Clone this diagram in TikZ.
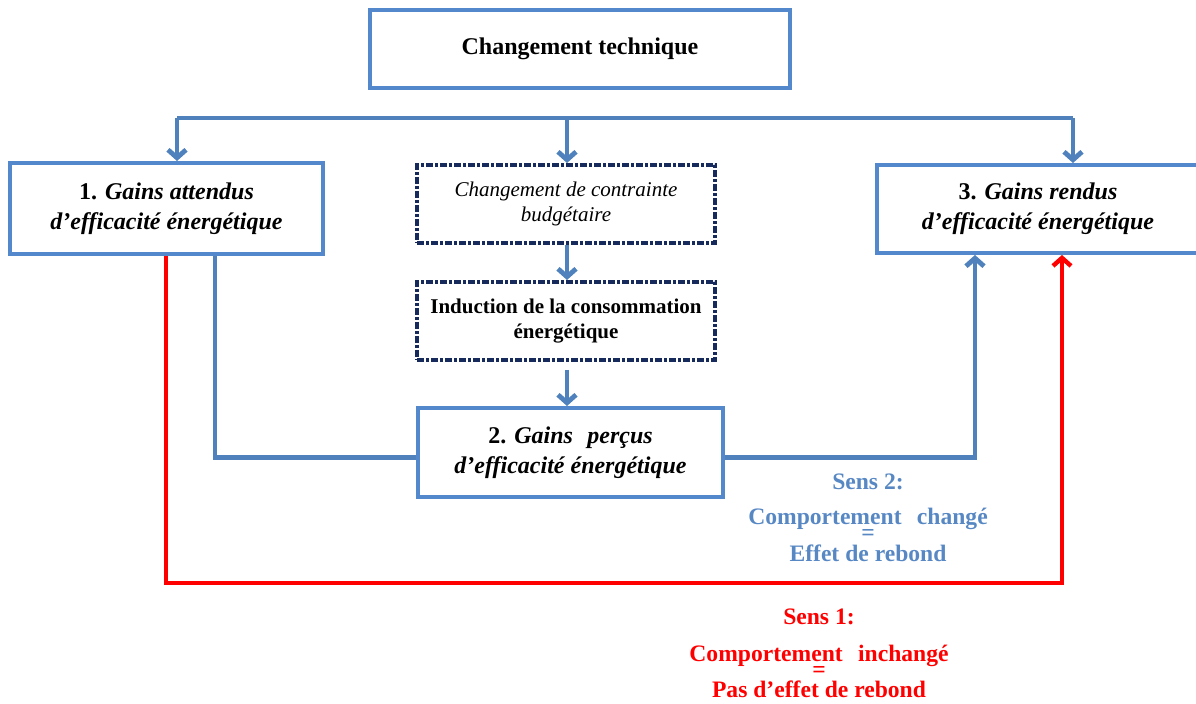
\documentclass[tikz,border=0pt]{standalone}
\usepackage{fontspec}
\setmainfont{Liberation Serif}
\usetikzlibrary{arrows.meta}
\definecolor{cblue}{RGB}{79,129,189}
\definecolor{cbox}{RGB}{84,136,204}
\definecolor{cnavy}{RGB}{22,42,92}
\definecolor{cred}{RGB}{255,0,0}
\definecolor{ctxtblue}{RGB}{88,136,196}
\begin{document}
\begin{tikzpicture}[x=0.5pt,y=-0.5pt,
  box/.style={draw=cbox, line width=2pt, fill=white, align=center, inner sep=0pt,
    font=\fontsize{12}{15}\selectfont\bfseries},
  dotbox/.style={draw=cnavy, line width=2pt, dash pattern=on 3.5pt off 1pt on 1.5pt off 1pt,
    fill=white, align=center, inner sep=0pt, font=\fontsize{10.5}{12.5}\selectfont},
  conn/.style={draw=cblue, line width=2.4pt},
  arr/.style={conn, -{Straight Barb[length=4pt,width=9pt]}},
  redarr/.style={draw=cred, line width=2.2pt, -{Straight Barb[length=4pt,width=9pt]}},
  sensfont/.style={font={\fontsize{11.8}{13}\selectfont\bfseries\lineskiplimit=-30pt\relax}, inner sep=0pt, align=center},
  sensb/.style={sensfont, text=ctxtblue},
  sensr/.style={sensfont, text=cred}]
\useasboundingbox (0,0) rectangle (1196,704);
\clip (0,0) rectangle (1196,704);

% boxes
\node[box, minimum width=210pt, minimum height=39pt] (top) at (580,49) {Changement technique};
\node[box, minimum width=156.5pt, minimum height=45.5pt] (b1) at (166.5,208.5)
  {1. \textit{Gains attendus}\\\textit{d’efficacité énergétique}};
\node[dotbox, minimum width=149pt, minimum height=39pt] (d1) at (566,204)
  {\itshape Changement de contrainte\\\itshape budgétaire};
\node[dotbox, minimum width=149pt, minimum height=39pt, font=\fontsize{10.5}{12.5}\selectfont\bfseries] (d2) at (566,321)
  {Induction de la consommation\\énergétique};
\node[box, minimum width=152.5pt, minimum height=44.5pt] (b2) at (570.5,452.5)
  {2. \textit{Gains\hspace{0.35em} perçus}\\\textit{d’efficacité énergétique}};
\node[box, minimum width=161pt, minimum height=44pt] (b3) at (1038,209)
  {3. \textit{Gains rendus}\\\textit{d’efficacité énergétique}};

% coordinates
\coordinate (hl) at (177,118);
\coordinate (hm) at (567,118);
\coordinate (hr) at (1073,118);
\coordinate (d2s) at (567,370);
\coordinate (bl) at (215,0);
\coordinate (br) at (975,0);
\coordinate (rl) at (166,583);
\coordinate (rr) at (1062,583);

% blue connectors
\draw[conn] (hl) -- (hr);
\draw[arr] (hl) -- (hl |- b1.north);
\draw[arr] (hm) -- (hm |- d1.north);
\draw[arr] (hr) -- (hr |- b3.north);
\draw[arr] (hm |- d1.south) -- (hm |- d2.north);
\draw[arr] (d2s) -- (d2s |- b2.north);
\draw[conn] (bl |- b1.south) |- ([yshift=-2.5pt]b2.west);
\draw[arr] ([yshift=-2.5pt]b2.east) -| (br |- b3.south);

% red connector
\draw[redarr] (rl |- b1.south) -- (rl) -- (rr) -- (rr |- b3.south);

% labels
\node[sensb] (s2a) at (868,482) {Sens 2:};
\node[sensb, anchor=north] (s2b) at (868,508)
  {Comportement\hspace{0.4em} changé\\[-5pt]=\\[-2.5pt]Effet de rebond};
\node[sensr] (s1a) at (819,617) {Sens 1:};
\node[sensr, anchor=north] (s1b) at (819,645)
  {Comportement\hspace{0.4em} inchangé\\[-5pt]=\\[-3pt]Pas d’effet de rebond};
\end{tikzpicture}
\end{document}
